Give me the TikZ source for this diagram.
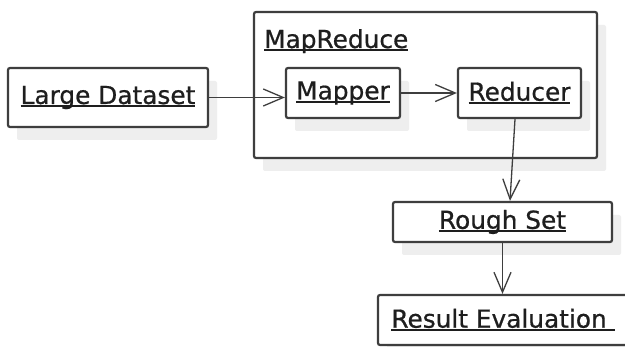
\documentclass[tikz,border=0pt]{standalone}
\usepackage{fontspec}
\setmainfont{DejaVu Sans}
\newfontfamily\diagfont[FakeBold=0.7]{DejaVu Sans}
\usetikzlibrary{arrows.meta,shadows}
\definecolor{boxline}{HTML}{3E3E3E}
\definecolor{txt}{HTML}{1E1E1E}
\definecolor{shad}{HTML}{EEEEEE}
\newcommand\myul[1]{\setbox0=\hbox{#1}\rlap{\color{txt}\rule[-3.5pt]{\wd0}{2pt}}\box0}
\tikzset{
  umlbox/.style={draw=boxline, line width=2.2pt, rounded corners=2pt, fill=white,
    inner sep=0pt, text=txt, font=\diagfont\fontsize{24.8}{28}\selectfont,
    general shadow={fill=shad, shadow xshift=9pt, shadow yshift=-13pt}},
  titletext/.style={inner sep=0pt, text=txt, font=\diagfont\fontsize{24.8}{28}\selectfont, anchor=base west},
  flow/.style={draw=boxline, line width=1.3pt, -{Straight Barb[length=20pt,width=17pt]}}
}
\begin{document}
\begin{tikzpicture}[x=1pt,y=-1pt]
\useasboundingbox (0,0) rectangle (625,347);
\clip (0,0) rectangle (625,347);
\fill[white] (0,0) rectangle (625,347);
% MapReduce container
\node[umlbox, minimum width=343pt, minimum height=146pt] (mr) at (425.5,85) {};
\node[titletext] (mrt) at (264,48) {\myul{MapReduce}};
% boxes
\node[umlbox, minimum width=200pt, minimum height=59pt] (ld) at (108,97.5) {\myul{Large Dataset}};
\node[umlbox, minimum width=114pt, minimum height=50pt] (map) at (343,93) {\myul{Mapper}};
\node[umlbox, minimum width=123pt, minimum height=50pt] (red) at (519.5,93) {\myul{Reducer}};
\node[umlbox, minimum width=219pt, minimum height=40pt] (rs) at (502.5,222) {\myul{Rough Set}};
\node[umlbox, minimum width=250pt, minimum height=50pt] (re) at (503,320) {\myul{Result Evaluation\ }};
% connectors
\draw[flow] (ld.east) -- (ld.east -| map.west);
\draw[flow] (map.east) -- (red.west);
\draw[flow] ([xshift=-4.5pt]red.south) -- ([xshift=7.5pt]rs.north);
\draw[flow] (rs.south) -- (rs.south |- re.north);
\end{tikzpicture}
\end{document}
